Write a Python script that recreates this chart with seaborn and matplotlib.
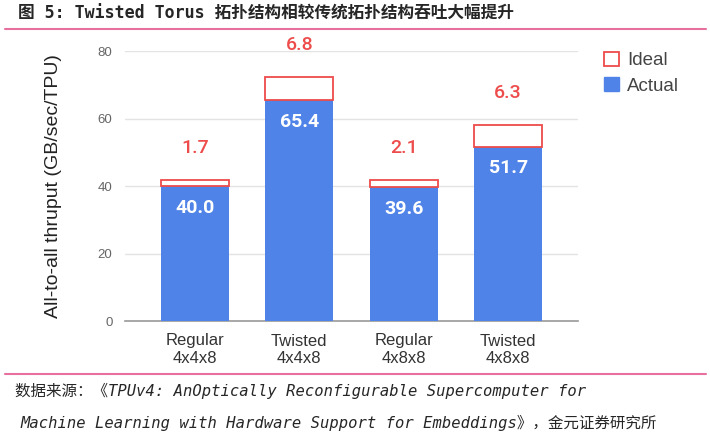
import matplotlib
matplotlib.use("Agg")
import matplotlib.pyplot as plt
import seaborn as sns
import pandas as pd
from matplotlib.patches import Patch
from matplotlib.lines import Line2D

categories = ["Regular\n4x4x8", "Twisted\n4x4x8", "Regular\n4x8x8", "Twisted\n4x8x8"]
actual = [40.0, 65.4, 39.6, 51.7]
ideal_extra = [1.7, 6.8, 2.1, 6.3]
yticks = [0, 20, 40, 60, 80]

title = "图 5: Twisted Torus 拓扑结构相较传统拓扑结构吞吐大幅提升"
source1 = "数据来源：《TPUv4: AnOptically Reconfigurable Supercomputer for"
source2 = "Machine Learning with Hardware Support for Embeddings》，金元证券研究所"

BLUE = "#5083E8"
RED = "#EE4B4B"
PINK = "#E8709F"

sns.set_theme(style="white")
plt.rcParams["font.family"] = ["Liberation Sans", "DejaVu Sans"]

df = pd.DataFrame({"cat": categories, "actual": actual, "extra": ideal_extra})

fig = plt.figure(figsize=(7.1, 4.36), dpi=100)
ax = fig.add_axes([125/710, 1-321/436, (578-125)/710, (321-51)/436])

bw = 0.65
sns.barplot(data=df, x="cat", y="actual", color=BLUE, saturation=1, width=bw,
            ax=ax, edgecolor=BLUE, linewidth=0, zorder=3)
sns.barplot(data=df, x="cat", y="extra", bottom=df["actual"].values, color="white",
            saturation=1, width=bw, ax=ax, edgecolor=RED, linewidth=1.3, zorder=3)

ax.set_ylim(0, 80)
ax.set_xlim(-0.67, 3.67)
ax.set_yticks(yticks)
ax.set_yticklabels([str(v) for v in yticks], color="#666666", fontsize=9.5)
ax.tick_params(axis="y", length=0, pad=9)
ax.tick_params(axis="x", length=0, pad=9)
ax.set_xticks(range(len(categories)))
ax.set_xticklabels(categories, fontsize=12, color="#333333", linespacing=1.2)
ax.grid(axis="y", color="#E3E3E3", linewidth=1, zorder=0)
for s in ["top", "right", "left"]:
    ax.spines[s].set_visible(False)
ax.spines["bottom"].set_color("#999999")
ax.spines["bottom"].set_linewidth(1.2)
ax.set_xlabel("")
ax.set_ylabel("All-to-all thruput (GB/sec/TPU)", fontsize=14, color="#222222", labelpad=26)

for i, (a, e) in enumerate(zip(actual, ideal_extra)):
    ax.annotate(f"{a:.1f}", (i, a), xytext=(0, -15.5), textcoords="offset points",
                ha="center", va="center", color="white", fontsize=14, fontweight="bold",
                family=["Roboto", "Liberation Sans"], zorder=5)
    ax.annotate(f"{e:.1f}", (i, a + e), xytext=(0, 23), textcoords="offset points",
                ha="center", va="center", color=RED, fontsize=14, fontweight="medium",
                family=["Roboto", "Liberation Sans"], zorder=5, annotation_clip=False)

handles = [Patch(facecolor="white", edgecolor=RED, linewidth=1.3, label="Ideal"),
           Patch(facecolor=BLUE, edgecolor=BLUE, label="Actual")]
leg = fig.legend(handles=handles, loc="upper left", bbox_to_anchor=(587/710, 1-35/436),
                 frameon=False, fontsize=13.5, handlelength=0.78, handleheight=0.78,
                 labelspacing=0.4, handletextpad=0.45)
for t in leg.get_texts():
    t.set_color("#444444")

fig.text(18/710, 1-14/436, title, fontsize=12, fontweight="bold", va="center", ha="left",
         family=["DejaVu Sans Mono", "Noto Sans CJK SC"])
fig.add_artist(Line2D([5/710, 706/710], [1-29/436, 1-29/436], color=PINK, linewidth=1.5))
fig.add_artist(Line2D([5/710, 706/710], [1-374/436, 1-374/436], color=PINK, linewidth=1.5))
fig.text(15/710, 1-391/436, source1, fontsize=11.2, style="italic", va="center", ha="left",
         family=["DejaVu Sans Mono", "Noto Sans CJK SC"])
fig.text(20/710, 1-423/436, source2, fontsize=11.2, style="italic", va="center", ha="left",
         family=["DejaVu Sans Mono", "Noto Sans CJK SC"])

fig.savefig("out.png", dpi=100)
